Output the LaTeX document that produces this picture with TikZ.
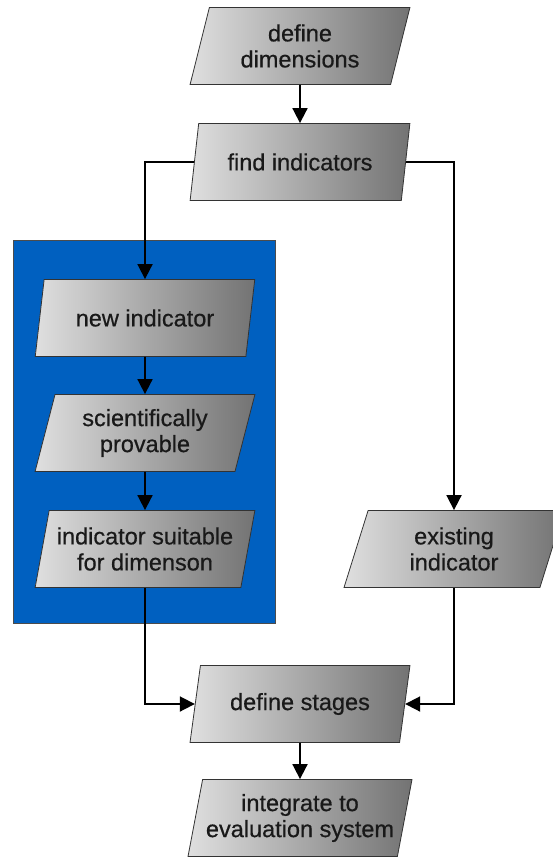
\documentclass[tikz,border=0pt]{standalone}
\usepackage{fontspec}
\setmainfont{Liberation Sans}[FakeBold=0.6]
\usetikzlibrary{shapes.geometric,arrows.meta}
\definecolor{groupblue}{RGB}{0,96,192}
\begin{document}
\begin{tikzpicture}[
        x=1pt, y=-1pt,
        box/.style={trapezium, trapezium left angle=75, trapezium right angle=105,
          trapezium stretches=true, minimum width=220pt, minimum height=77pt,
          draw=black!80, line width=0.8pt, left color=gray!25, right color=black!55,
          align=center, text=black!90, font=\fontsize{23.5}{26}\selectfont},
        arrow/.style={line width=1.8pt, -{Triangle[width=15pt,length=15pt]}},
      ]

      \useasboundingbox (0,0) rectangle (552,857);

      \node[draw=black!70, fill=groupblue, minimum width=262pt, minimum height=383pt,
        inner sep=0pt] (group) at (144,431.5) {};

      \node[box] (dim) at (300,46) {define\\dimensions};
      \node[box] (find) at (300,162) {find indicators};
      \node[box] (new) at (145,318) {new indicator};
      \node[box] (sci) at (145,433) {scientifically\\provable};
      \node[box] (suit) at (145,549) {indicator suitable\\for dimenson};
      \node[box] (exist) at (454,549) {existing\\indicator};
      \node[box] (stages) at (300,704) {define stages};
      \node[box] (integ) at (300,818) {integrate to\\evaluation system};

      \draw[arrow] (dim) -- (find);
      \draw[arrow] (find.west) -| (new.north);
      \draw[arrow] (new) -- (sci);
      \draw[arrow] (sci) -- (suit);
      \draw[arrow] (find.east) -| (exist.north);
      \draw[arrow] (suit.south) |- (stages.west);
      \draw[arrow] (exist.south) |- (stages.east);
      \draw[arrow] (stages) -- (integ);

    \end{tikzpicture}
\end{document}
